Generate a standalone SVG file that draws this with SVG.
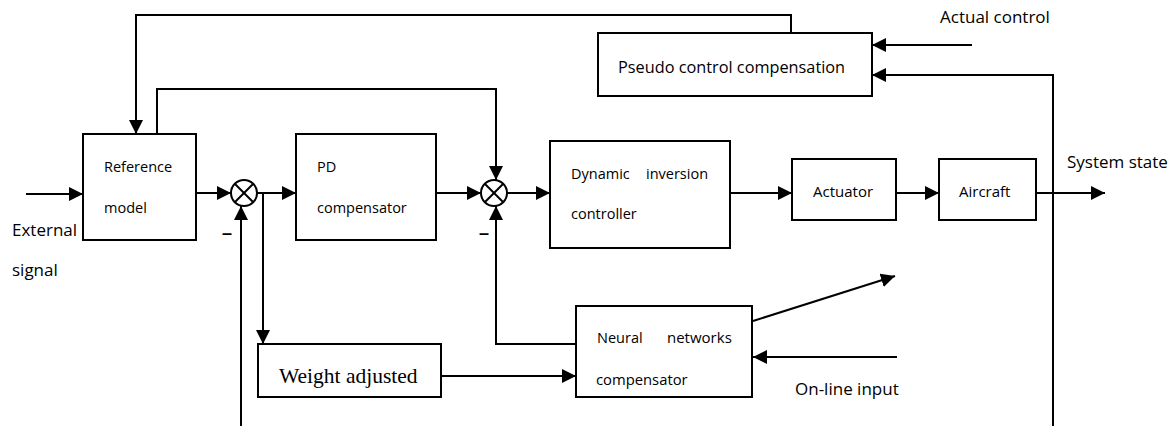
<svg xmlns="http://www.w3.org/2000/svg" width="1174" height="426" viewBox="0 0 1174 426">
  <style>
    .box { fill: #ffffff; stroke: #000000; stroke-width: 2; }
    .wire { fill: none; stroke: #000000; stroke-width: 2; }
    .arrow { marker-end: url(#head); }
    .lbl { font-family: "Open Sans", "Liberation Sans", sans-serif; fill: #000000; }
    .serif { font-family: "Liberation Serif", "DejaVu Serif", serif; fill: #000000; }
    .minus { font-family: "Liberation Sans", "DejaVu Sans", sans-serif; font-weight: bold; font-size: 18px; fill: #000000; }
    .sum circle { fill: #ffffff; stroke: #000000; stroke-width: 2; }
    .sum line { stroke: #000000; stroke-width: 2; }
  </style>
  <defs>
    <marker id="head" markerUnits="userSpaceOnUse" markerWidth="14" markerHeight="14" refX="14" refY="7" orient="auto">
      <path d="M0,0 L14,7 L0,14 z" fill="#000000"/>
    </marker>
  </defs>
  <rect width="1174" height="426" fill="#ffffff"/>

  <!-- signal paths -->
  <g id="connectors">
    <path class="wire arrow" d="M26,194 H83"/>
    <path class="wire arrow" d="M196,193 H231"/>
    <path class="wire arrow" d="M257,193 H296"/>
    <path class="wire arrow" d="M263,193 V344"/>
    <path class="wire arrow" d="M241,426 V206"/>
    <path class="wire arrow" d="M436,193 H481"/>
    <path class="wire arrow" d="M157,134 V89 H496 V180"/>
    <path class="wire arrow" d="M507,193 H550"/>
    <path class="wire arrow" d="M730,193 H792"/>
    <path class="wire arrow" d="M896,193 H939"/>
    <path class="wire arrow" d="M1036,193 H1105"/>
    <path class="wire arrow" d="M791,33 V15 H136 V134"/>
    <path class="wire arrow" d="M972,45 H872"/>
    <path class="wire arrow" d="M1053,426 V75 H872"/>
    <path class="wire arrow" d="M576,344 H496 V206"/>
    <path class="wire arrow" d="M441,376 H576"/>
    <path class="wire arrow" d="M753,321 L895,276"/>
    <path class="wire arrow" d="M897,357 H753"/>
  </g>

  <!-- summing junctions -->
  <g id="sum1" class="sum">
    <circle cx="244" cy="193" r="13"/>
    <line x1="235" y1="184" x2="253" y2="202"/>
    <line x1="253" y1="184" x2="235" y2="202"/>
    <text class="minus" x="222" y="239">–</text>
  </g>
  <g id="sum2" class="sum">
    <circle cx="494" cy="193" r="13"/>
    <line x1="485" y1="184" x2="503" y2="202"/>
    <line x1="503" y1="184" x2="485" y2="202"/>
    <text class="minus" x="479" y="239">–</text>
  </g>

  <!-- blocks -->
  <g id="reference-model">
    <rect class="box" x="83" y="134" width="113" height="106"/>
    <text class="lbl" x="104" y="172" font-size="14.5">Reference</text>
    <text class="lbl" x="104" y="213" font-size="14.5">model</text>
  </g>
  <g id="pd-compensator">
    <rect class="box" x="296" y="134" width="140" height="106"/>
    <text class="lbl" x="317" y="172" font-size="14.5">PD</text>
    <text class="lbl" x="317" y="213" font-size="14.5">compensator</text>
  </g>
  <g id="dynamic-inversion">
    <rect class="box" x="550" y="141" width="180" height="107"/>
    <text class="lbl" x="571" y="179" font-size="14.5">Dynamic</text>
    <text class="lbl" x="646" y="179" font-size="14.5">inversion</text>
    <text class="lbl" x="571" y="219" font-size="14.5">controller</text>
  </g>
  <g id="actuator">
    <rect class="box" x="792" y="159" width="104" height="61"/>
    <text class="lbl" x="813" y="197" font-size="15">Actuator</text>
  </g>
  <g id="aircraft">
    <rect class="box" x="939" y="159" width="97" height="61"/>
    <text class="lbl" x="959" y="197" font-size="15">Aircraft</text>
  </g>
  <g id="pseudo-control">
    <rect class="box" x="598" y="33" width="274" height="63"/>
    <text class="lbl" x="618" y="73" font-size="16.3">Pseudo control compensation</text>
  </g>
  <g id="weight-adjusted">
    <rect class="box" x="258" y="344" width="183" height="53"/>
    <text class="serif" x="279" y="383" font-size="21.5">Weight adjusted</text>
  </g>
  <g id="neural-compensator">
    <rect class="box" x="576" y="306" width="176" height="91"/>
    <text class="lbl" x="597" y="343" font-size="14.5">Neural</text>
    <text class="lbl" x="667" y="343" font-size="15">networks</text>
    <text class="lbl" x="596" y="385" font-size="14.8">compensator</text>
  </g>

  <!-- outer signal labels -->
  <g id="labels">
    <text class="lbl" x="12" y="236" font-size="17">External</text>
    <text class="lbl" x="12" y="276" font-size="17">signal</text>
    <text class="lbl" x="940" y="23" font-size="17">Actual control</text>
    <text class="lbl" x="1067" y="168" font-size="17">System state</text>
    <text class="lbl" x="795" y="395" font-size="17">On-line input</text>
  </g>
</svg>
